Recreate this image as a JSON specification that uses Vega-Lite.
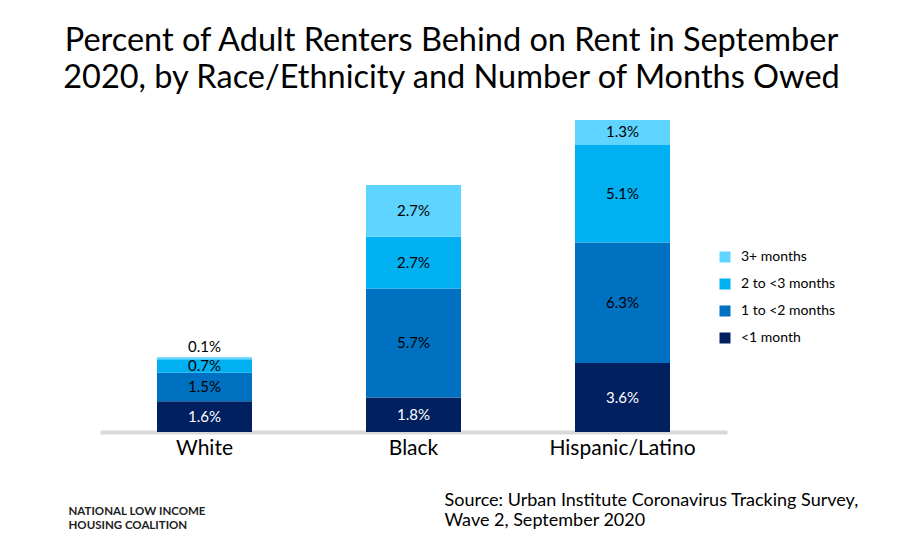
{
  "$schema": "https://vega.github.io/schema/vega-lite/v6.json",
  "autosize": {"type": "none"},
  "width": 627,
  "height": 312,
  "padding": {"left": 100, "top": 120, "right": 176, "bottom": 124},
  "background": "white",
  "config": {
    "font": "Lato",
    "view": {"stroke": null}
  },
  "title": {
    "text": ["Percent of Adult Renters Behind on Rent in September", "2020, by Race/Ethnicity and Number of Months Owed"],
    "fontSize": 32.5,
    "font": "Lato",
    "fontWeight": "normal",
    "color": "black",
    "anchor": "middle",
    "frame": "group",
    "dx": 38,
    "lineHeight": 37,
    "offset": 26
  },
  "data": {
    "values": [
      {"group": "White", "months": "<1 month", "k": 1, "share": 0.016},
      {"group": "White", "months": "1 to <2 months", "k": 2, "share": 0.015},
      {"group": "White", "months": "2 to <3 months", "k": 3, "share": 0.007},
      {"group": "White", "months": "3+ months", "k": 4, "share": 0.001},
      {"group": "Black", "months": "<1 month", "k": 1, "share": 0.018},
      {"group": "Black", "months": "1 to <2 months", "k": 2, "share": 0.057},
      {"group": "Black", "months": "2 to <3 months", "k": 3, "share": 0.027},
      {"group": "Black", "months": "3+ months", "k": 4, "share": 0.027},
      {"group": "Hispanic/Latino", "months": "<1 month", "k": 1, "share": 0.036},
      {"group": "Hispanic/Latino", "months": "1 to <2 months", "k": 2, "share": 0.063},
      {"group": "Hispanic/Latino", "months": "2 to <3 months", "k": 3, "share": 0.051},
      {"group": "Hispanic/Latino", "months": "3+ months", "k": 4, "share": 0.013}
    ]
  },
  "transform": [
    {"stack": "share", "groupby": ["group"], "sort": [{"field": "k", "order": "ascending"}], "as": ["y0", "y1"]},
    {"calculate": "(datum.y0 + datum.y1) / 2", "as": "mid"}
  ],
  "encoding": {
    "x": {
      "field": "group",
      "type": "nominal",
      "sort": ["White", "Black", "Hispanic/Latino"],
      "scale": {"paddingInner": 0, "paddingOuter": 0},
      "axis": {
        "labelAngle": 0,
        "labelFontSize": 21,
        "labelColor": "black",
        "labelFont": "Lato",
        "labelPadding": 5,
        "ticks": false,
        "domainColor": "#d9d9d9",
        "domainWidth": 4,
        "title": ["Source: Urban Institute Coronavirus Tracking Survey,", "Wave 2, September 2020"],
        "titleFontSize": 18,
        "titleFontWeight": "normal",
        "titleColor": "black",
        "titleAlign": "left",
        "titleAnchor": "start",
        "titleBaseline": "alphabetic",
        "titleLineHeight": 20,
        "titleX": 344,
        "titleY": 73
      }
    }
  },
  "layer": [
    {
      "mark": {"type": "bar", "width": 95},
      "encoding": {
        "y": {
          "field": "y1",
          "type": "quantitative",
          "scale": {"domain": [0, 0.163], "nice": false},
          "axis": {
            "domain": false, "labels": false, "ticks": false, "grid": false,
            "title": ["NATIONAL LOW INCOME", "HOUSING COALITION"],
            "titleAngle": 0,
            "titleFontSize": 11.5,
            "titleFontWeight": "bold",
            "titleColor": "#222222",
            "titleAlign": "left",
            "titleBaseline": "alphabetic",
            "titleLineHeight": 14,
            "titleX": -32,
            "titleY": 394
          }
        },
        "y2": {"field": "y0"},
        "color": {
          "field": "months",
          "type": "nominal",
          "scale": {
            "domain": ["3+ months", "2 to <3 months", "1 to <2 months", "<1 month"],
            "range": ["#5fd4ff", "#00b0f0", "#0070c0", "#002060"]
          },
          "legend": {
            "orient": "none",
            "legendX": 618,
            "legendY": 130,
            "title": null,
            "symbolType": "square",
            "symbolSize": 121,
            "symbolStrokeWidth": 0,
            "labelFontSize": 14,
            "labelColor": "black",
            "labelOffset": 9,
            "rowPadding": 13
          }
        }
      }
    },
    {
      "transform": [{"filter": "datum.share >= 0.005"}],
      "mark": {"type": "text", "fontSize": 15, "baseline": "middle"},
      "encoding": {
        "y": {"field": "mid", "type": "quantitative"},
        "text": {"field": "share", "type": "quantitative", "format": ".1%"},
        "color": {"condition": {"test": "datum.months === '<1 month'", "value": "white"}, "value": "black"}
      }
    },
    {
      "transform": [{"filter": "datum.share < 0.005"}],
      "mark": {"type": "text", "fontSize": 15, "baseline": "bottom", "dy": -2, "color": "black"},
      "encoding": {
        "y": {"field": "y1", "type": "quantitative"},
        "text": {"field": "share", "type": "quantitative", "format": ".1%"}
      }
    }
  ]
}
